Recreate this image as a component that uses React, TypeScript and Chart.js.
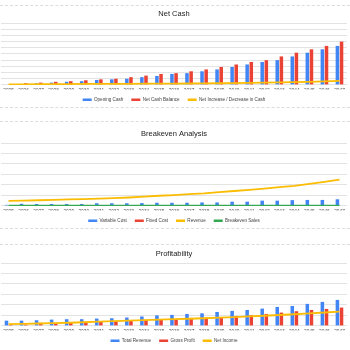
import React, { useEffect, useRef } from 'react';
import { Chart, registerables } from 'chart.js';
Chart.register(...registerables);

const years = ['2025','2026','2027','2028','2029','2030','2031','2032','2033','2034','2035','2036','2037','2038','2039','2040','2041','2042','2043','2044','2045','2046','2047'];

// Net Cash (relative units, one gridline = 1)
const openingCash = [0, 0.1, 0.27, 0.37, 0.5, 0.6, 0.8, 0.9, 1.0, 1.25, 1.45, 1.77, 1.9, 2.2, 2.5, 2.9, 3.3, 3.7, 4.0, 4.6, 5.2, 5.75, 6.3];
const netCashBalance = [0.06, 0.27, 0.37, 0.5, 0.6, 0.75, 0.9, 1.0, 1.25, 1.5, 1.77, 1.9, 2.2, 2.5, 2.9, 3.3, 3.7, 4.0, 4.6, 5.2, 5.75, 6.3, 7.0];
const netIncrease = [0.1, 0.1, 0.12, 0.13, 0.14, 0.15, 0.16, 0.17, 0.18, 0.19, 0.2, 0.21, 0.23, 0.25, 0.27, 0.3, 0.33, 0.36, 0.4, 0.45, 0.5, 0.57, 0.65];

// Breakeven Analysis
const variableCost = [0.1, 0.2, 0.18, 0.18, 0.18, 0.18, 0.25, 0.25, 0.25, 0.27, 0.3, 0.3, 0.3, 0.33, 0.33, 0.4, 0.4, 0.5, 0.5, 0.55, 0.57, 0.57, 0.63];
const fixedCost = [0, 0, 0, 0, 0, 0, 0, 0, 0, 0, 0, 0, 0, 0, 0, 0, 0, 0, 0, 0, 0, 0, 0];
const revenue = [0.48, 0.5, 0.54, 0.58, 0.62, 0.65, 0.7, 0.74, 0.8, 0.88, 0.97, 1.03, 1.12, 1.2, 1.32, 1.42, 1.52, 1.65, 1.8, 1.92, 2.1, 2.3, 2.5];
const breakevenSales = [0.02, 0.02, 0.02, 0.02, 0.02, 0.02, 0.02, 0.02, 0.02, 0.02, 0.02, 0.02, 0.02, 0.02, 0.02, 0.02, 0.02, 0.02, 0.02, 0.02, 0.02, 0.02, 0.02];

// Profitability
const totalRevenue = [0.5, 0.5, 0.54, 0.6, 0.64, 0.64, 0.7, 0.73, 0.8, 0.9, 1.0, 1.05, 1.14, 1.2, 1.33, 1.43, 1.52, 1.65, 1.81, 1.9, 2.1, 2.29, 2.48];
const grossProfit = [0.16, 0.13, 0.29, 0.25, 0.29, 0.38, 0.41, 0.48, 0.48, 0.57, 0.57, 0.63, 0.73, 0.79, 0.83, 0.95, 1.02, 1.14, 1.27, 1.4, 1.52, 1.62, 1.75];
const netIncome = [0.17, 0.2, 0.23, 0.26, 0.3, 0.35, 0.4, 0.45, 0.5, 0.55, 0.6, 0.64, 0.68, 0.73, 0.78, 0.83, 0.9, 0.97, 1.04, 1.11, 1.2, 1.28, 1.36];

const FONT = "'Liberation Sans', Arial, sans-serif";
const BLUE = '#4285F4';
const RED = '#EA4335';
const YELLOW = '#FBBC04';
const GREEN = '#34A853';

function bar(label: string, data: number[], color: string) {
  return { type: 'bar', label, data, backgroundColor: color, borderWidth: 0, barPercentage: 0.85, categoryPercentage: 0.55, order: 2 };
}
function line(label: string, data: number[], color: string) {
  return { type: 'line', label, data, borderColor: color, backgroundColor: color, borderWidth: 1.8, pointRadius: 0, tension: 0, order: 1 };
}

function makeConfig(title: string, datasets: any[], yMax: number, titlePadTop: number): any {
  return {
    type: 'bar',
    data: { labels: years, datasets },
    options: {
      responsive: false,
      animation: false,
      layout: { padding: { left: 1, right: 3, top: 0, bottom: 0 } },
      plugins: {
        title: {
          display: true,
          text: title,
          color: '#222',
          font: { family: FONT, size: 7.5, weight: 'normal' },
          padding: { top: titlePadTop, bottom: 4.5 },
        },
        legend: {
          position: 'bottom',
          labels: {
            boxWidth: 9,
            boxHeight: 2.5,
            padding: 8,
            color: '#444',
            font: { family: FONT, size: 4.6 },
            sort: (a: any, b: any) => a.datasetIndex - b.datasetIndex,
            generateLabels: (chart: any) =>
              Chart.defaults.plugins.legend.labels.generateLabels(chart).map((l: any) => ({ ...l, lineWidth: 0 })),
          },
        },
        tooltip: { enabled: false },
      },
      scales: {
        x: {
          grid: { display: false, drawTicks: false },
          border: { display: false },
          ticks: { font: { family: FONT, size: 4.8 }, color: '#444', padding: 3.2, maxRotation: 0, autoSkip: false },
          afterFit: (s: any) => { s.height = 4.5; },
        },
        y: {
          min: 0,
          max: yMax,
          ticks: { display: false, stepSize: 1 },
          grid: { color: '#e3e3e3', drawTicks: false, lineWidth: 1 },
          border: { display: false },
        },
      },
    },
  };
}

function ChartBox({ top, height, config }: { top: number; height: number; config: any }) {
  const ref = useRef<HTMLCanvasElement>(null);
  useEffect(() => {
    const chart = new Chart(ref.current as HTMLCanvasElement, config);
    return () => chart.destroy();
  }, []);
  return (
    <canvas
      ref={ref}
      width={350}
      height={height}
      style={{ position: 'absolute', left: 0, top, width: 350, height, display: 'block' }}
    />
  );
}

function Sep({ y }: { y: number }) {
  return <div style={{ position: 'absolute', left: 0, top: y, width: 350, height: 0, borderTop: '1px dashed #dcdcdc' }} />;
}

export default function App() {
  const c1 = makeConfig('Net Cash', [
    bar('Opening Cash', openingCash, BLUE),
    bar('Net Cash Balance', netCashBalance, RED),
    line('Net Increase / Decrease in Cash', netIncrease, YELLOW),
  ], 10, 3.5);
  const c2 = makeConfig('Breakeven Analysis', [
    bar('Variable Cost', variableCost, BLUE),
    bar('Fixed Cost', fixedCost, RED),
    line('Revenue', revenue, YELLOW),
    line('Breakeven Sales', breakevenSales, GREEN),
  ], 6, 9.5);
  const c3 = makeConfig('Profitability', [
    bar('Total Revenue', totalRevenue, BLUE),
    bar('Gross Profit', grossProfit, RED),
    line('Net Income', netIncome, YELLOW),
  ], 6, 6.5);
  return (
    <div style={{ position: 'absolute', left: 0, top: 0, width: 350, height: 350, overflow: 'hidden', background: '#fff' }}>
      <Sep y={5} />
      <Sep y={107} />
      <Sep y={121} />
      <Sep y={228} />
      <Sep y={244} />
      <ChartBox top={6} height={106} config={c1} />
      <ChartBox top={120} height={113} config={c2} />
      <ChartBox top={243} height={110} config={c3} />
    </div>
  );
}
